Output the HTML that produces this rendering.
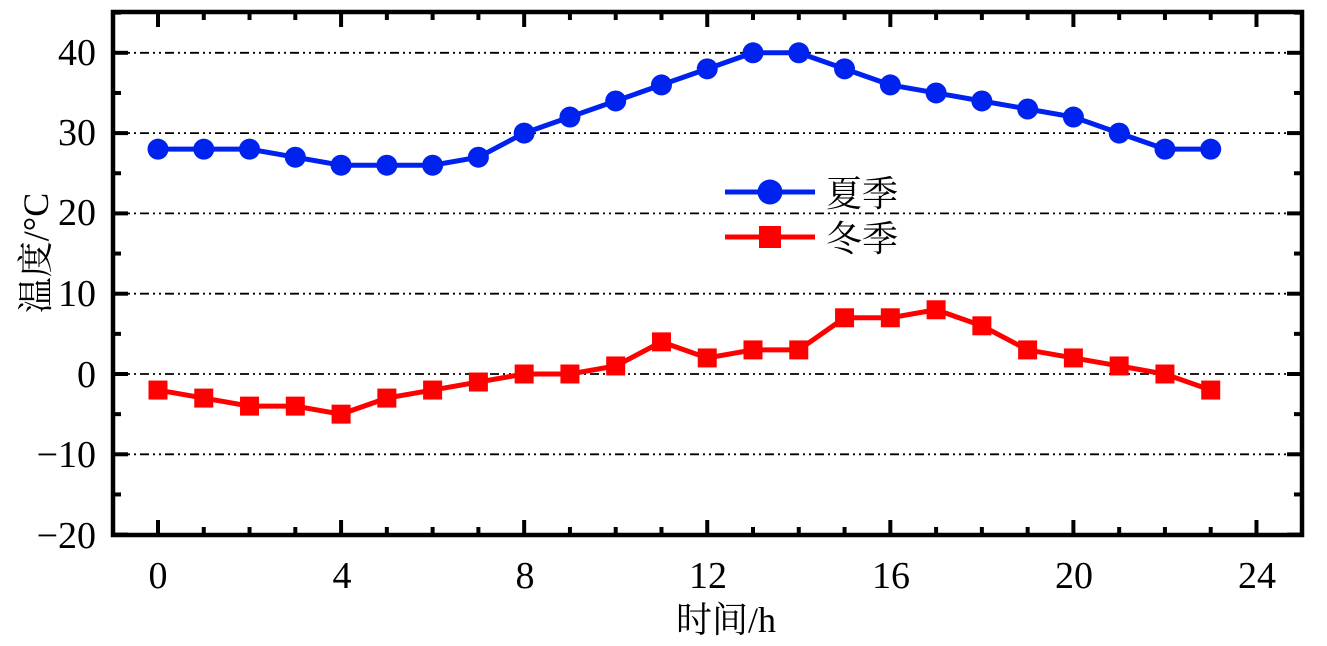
<!DOCTYPE html>
<html><head><meta charset="utf-8"><style>
html,body{margin:0;padding:0;background:#fff;width:1327px;height:646px;overflow:hidden}
svg text{font-family:"Liberation Serif","Noto Serif CJK SC",serif;fill:#000}
</style></head><body>
<svg id="s" width="1327" height="646" xmlns="http://www.w3.org/2000/svg">
<g font-size="38" text-anchor="end">
<text x="96" y="65">40</text><text x="96" y="145">30</text><text x="96" y="225">20</text><text x="96" y="306">10</text><text x="96" y="387">0</text><text x="96" y="467">−10</text><text x="96" y="548">−20</text>
</g>
<g font-size="38" text-anchor="middle">
<text x="158" y="588">0</text><text x="342" y="588">4</text><text x="525" y="588">8</text><text x="708" y="588">12</text><text x="891" y="588">16</text><text x="1074" y="588">20</text><text x="1257" y="588">24</text>
</g>
<text x="726" y="632" font-size="36" text-anchor="middle">时间/h</text>
<text transform="translate(48,253) rotate(-90)" font-size="36" text-anchor="middle">温度/°C</text>
<text x="826" y="206" font-size="36">夏季</text>
<text x="826" y="251" font-size="36">冬季</text>
</svg>
<script>
var s=document.getElementById('s'),NS='http://www.w3.org/2000/svg';
function el(t,a){var e=document.createElementNS(NS,t);for(var k in a)e.setAttribute(k,a[k]);s.appendChild(e);return e;}
function X(h){return 158+45.77*h}function Y(v){return 374-8.03*v}
for(var v=-10;v<=40;v+=10){el('line',{x1:115,x2:1300,y1:Y(v),y2:Y(v),stroke:'#000','stroke-width':1.8,'stroke-dasharray':'9 4 2 4 2 4'});}
el('rect',{x:113,y:12,width:1189,height:523,fill:'none',stroke:'#000','stroke-width':4.5});
for(var h=0;h<=24;h++){var L=h%4==0?15:8;el('line',{x1:X(h),x2:X(h),y1:535,y2:535-L,stroke:'#000','stroke-width':4});el('line',{x1:X(h),x2:X(h),y1:12,y2:12+L,stroke:'#000','stroke-width':4});}
for(var v=-20;v<=45;v+=5){var L=v%10==0?15:8;el('line',{x1:113,x2:113+L,y1:Y(v),y2:Y(v),stroke:'#000','stroke-width':4});el('line',{x1:1302,x2:1302-L,y1:Y(v),y2:Y(v),stroke:'#000','stroke-width':4});}
var su=[28,28,28,27,26,26,26,27,30,32,34,36,38,40,40,38,36,35,34,33,32,30,28,28];
var wi=[-2,-3,-4,-4,-5,-3,-2,-1,0,0,1,4,2,3,3,7,7,8,6,3,2,1,0,-2];
function pts(a){return a.map(function(v,i){return X(i)+','+Y(v)}).join(' ')}
el('polyline',{points:pts(wi),fill:'none',stroke:'#f00','stroke-width':5});
wi.forEach(function(v,i){el('rect',{x:X(i)-9.5,y:Y(v)-9.5,width:19,height:19,fill:'#f00'})});
el('polyline',{points:pts(su),fill:'none',stroke:'#0022ee','stroke-width':5});
su.forEach(function(v,i){el('circle',{cx:X(i),cy:Y(v),r:10.5,fill:'#0022ee'})});
el('line',{x1:725,x2:815,y1:192,y2:192,stroke:'#0022ee','stroke-width':5});el('circle',{cx:770,cy:192,r:12.5,fill:'#0022ee'});
el('line',{x1:725,x2:815,y1:237,y2:237,stroke:'#f00','stroke-width':5});el('rect',{x:759,y:226,width:22,height:22,fill:'#f00'});
</script>
</body></html>
